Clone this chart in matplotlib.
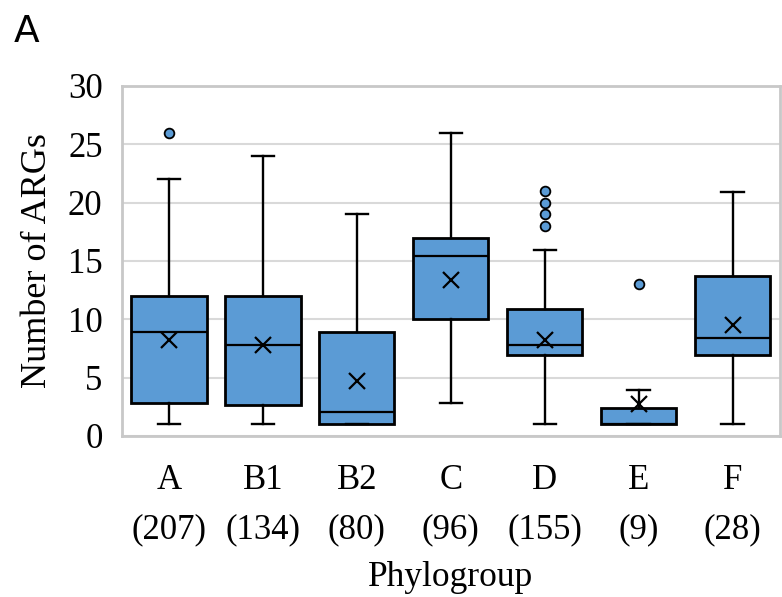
import matplotlib
matplotlib.use("Agg")
import matplotlib.pyplot as plt

# values
groups = ["A", "B1", "B2", "C", "D", "E", "F"]
counts = [207, 134, 80, 96, 155, 9, 28]
whis_lo = [1, 1, 1, 2.8, 1, 1, 1]
q1 = [2.8, 2.6, 1, 10, 6.9, 1, 6.9]
medians = [8.9, 7.8, 2, 15.4, 7.8, 1, 8.4]
q3 = [12, 12, 8.9, 17, 10.9, 2.4, 13.7]
whis_hi = [22, 24, 19, 26, 15.9, 3.9, 20.9]
means = [8.2, 7.8, 4.7, 13.4, 8.2, 2.7, 9.5]
outliers = [[26], [], [], [], [18, 19, 20, 21], [13], []]

plt.rcParams['font.family'] = ['Liberation Serif', 'DejaVu Serif']

stats = []
for i in range(len(groups)):
    stats.append({
        'label': groups[i] + "\n(" + str(counts[i]) + ")",
        'whislo': whis_lo[i], 'q1': q1[i], 'med': medians[i],
        'q3': q3[i], 'whishi': whis_hi[i], 'mean': means[i],
        'fliers': outliers[i],
    })

fig = plt.figure(figsize=(7.82, 5.97), dpi=100)
ax = fig.add_axes([0.156, 0.27, 0.841, 0.586])

ax.yaxis.grid(True, color='#d9d9d9', linewidth=1.5)
ax.set_axisbelow(True)

ax.bxp(stats, positions=range(len(groups)), widths=0.8, patch_artist=True,
       showmeans=True, showfliers=True,
       boxprops=dict(facecolor='#5b9bd5', edgecolor='black', linewidth=2),
       medianprops=dict(color='black', linewidth=1.6),
       whiskerprops=dict(color='black', linewidth=1.7),
       capprops=dict(color='black', linewidth=1.7),
       capwidths=0.24,
       meanprops=dict(marker='x', markeredgecolor='black', markersize=11,
                      markeredgewidth=1.6),
       flierprops=dict(marker='o', markerfacecolor='#5b9bd5',
                       markeredgecolor='black', markersize=7,
                       markeredgewidth=1.3))

ax.set_xlim(-0.5, len(groups) - 0.5)
ax.set_ylim(0, 30)
ax.set_yticks(range(0, 31, 5))

for s in ax.spines.values():
    s.set_color('#c8c8c8')
    s.set_linewidth(2)

ax.tick_params(axis='both', length=0, labelsize=25)
ax.tick_params(axis='y', pad=14)
ax.tick_params(axis='x', pad=20)
for lbl in ax.get_xticklabels():
    lbl.set_linespacing(1.65)

ax.set_ylabel("Number of ARGs", fontsize=26, labelpad=10)
ax.set_xlabel("Phylogroup", fontsize=25.5, labelpad=11)

fig.text(0.018, 0.93, "A", fontsize=27, family='DejaVu Sans')

fig.savefig("out.png", dpi=100)
